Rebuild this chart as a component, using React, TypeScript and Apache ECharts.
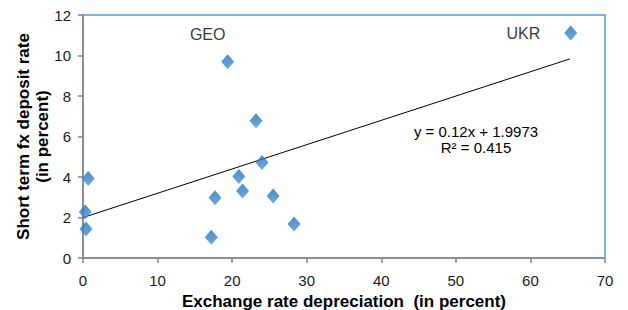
import React, { useEffect, useRef } from "react";
import * as echarts from "echarts";

const depreciation = [0.3, 0.4, 0.7, 17.2, 17.7, 20.9, 21.4, 24.0, 25.5, 28.3, 19.4, 23.2, 65.4];
const depositRate = [2.27, 1.43, 3.93, 1.02, 2.98, 4.02, 3.31, 4.71, 3.06, 1.68, 9.69, 6.78, 11.11];
const pointLabels = ["", "", "", "", "", "", "", "", "", "", "GEO", "", "UKR"];
const trendSlope = 0.12;
const trendIntercept = 1.9973;
const trendRange = [0, 65.3];
const equationText = "y = 0.12x + 1.9973";
const r2Text = "R² = 0.415";
const xTicks = [0, 10, 20, 30, 40, 50, 60, 70];
const yTicks = [0, 2, 4, 6, 8, 10, 12];

export default function App() {
  const ref = useRef<HTMLDivElement>(null);
  useEffect(() => {
    if (!ref.current) return;
    const chart = echarts.init(ref.current, undefined, { renderer: "svg" });
    const font = "'Liberation Sans', Arial, sans-serif";
    const pts = depreciation.map((x, i) => ({
      value: [x, depositRate[i]],
      label:
        pointLabels[i] === "GEO"
          ? { show: true, formatter: "GEO", position: "top", offset: [-20, -7] }
          : pointLabels[i] === "UKR"
          ? { show: true, formatter: "UKR", position: "left", distance: 24 }
          : { show: false },
    }));
    chart.setOption({
      animation: false,
      textStyle: { fontFamily: font },
      grid: {
        left: 83,
        top: 15,
        right: 23,
        bottom: 52,
        show: true,
        borderColor: "#5b9bd5",
        borderWidth: 1.5,
        containLabel: false,
        outerBoundsMode: "none",
      },
      xAxis: {
        type: "value",
        min: xTicks[0],
        max: xTicks[xTicks.length - 1],
        interval: 10,
        splitLine: { show: false },
        axisLine: { show: true, onZero: false, lineStyle: { color: "#868686", width: 1.5 } },
        axisTick: { show: true, length: 5, lineStyle: { color: "#868686", width: 1.5 } },
        axisLabel: { color: "#1a1a1a", fontSize: 15, margin: 15, fontFamily: font },
        name: "Exchange rate depreciation  (in percent)",
        nameLocation: "middle",
        nameGap: 31,
        nameTextStyle: { fontWeight: "bold", fontSize: 17, color: "#000", fontFamily: font },
      },
      yAxis: {
        type: "value",
        min: yTicks[0],
        max: yTicks[yTicks.length - 1],
        interval: 2,
        splitLine: { show: false },
        axisLine: { show: true, onZero: false, lineStyle: { color: "#868686", width: 1.5 } },
        axisTick: { show: true, length: 5, lineStyle: { color: "#868686", width: 1.5 } },
        axisLabel: { color: "#1a1a1a", fontSize: 15, margin: 12, fontFamily: font },
        name: "Short term fx deposit rate\n(in percent)",
        nameLocation: "middle",
        nameGap: 31,
        nameMoveOverlap: false,
        nameTextStyle: { fontWeight: "bold", fontSize: 17, color: "#000", lineHeight: 19, fontFamily: font },
      },
      series: [
        {
          type: "line",
          data: trendRange.map((x) => [x, trendSlope * x + trendIntercept]),
          symbol: "none",
          lineStyle: { color: "#000", width: 1 },
          z: 1,
        },
        {
          type: "scatter",
          data: pts,
          symbol: "diamond",
          symbolSize: [13, 15],
          itemStyle: {
            color: new echarts.graphic.LinearGradient(0, 0, 0, 1, [
              { offset: 0, color: "#1f70b9" },
              { offset: 1, color: "#4c92d2" },
            ]),
          },
          label: { color: "#000", fontSize: 16, fontFamily: font },
          z: 3,
        },
      ],
      graphic: [
        {
          type: "text",
          x: 476,
          y: 131,
          style: { text: equationText, font: `15px ${font}`, fill: "#000", align: "center", verticalAlign: "middle" },
        },
        {
          type: "text",
          x: 476,
          y: 147,
          style: { text: r2Text, font: `15px ${font}`, fill: "#000", align: "center", verticalAlign: "middle" },
        },
      ],
    });
    return () => chart.dispose();
  }, []);
  return <div ref={ref} style={{ width: 628, height: 310, position: "absolute", left: 0, top: 0 }} />;
}
